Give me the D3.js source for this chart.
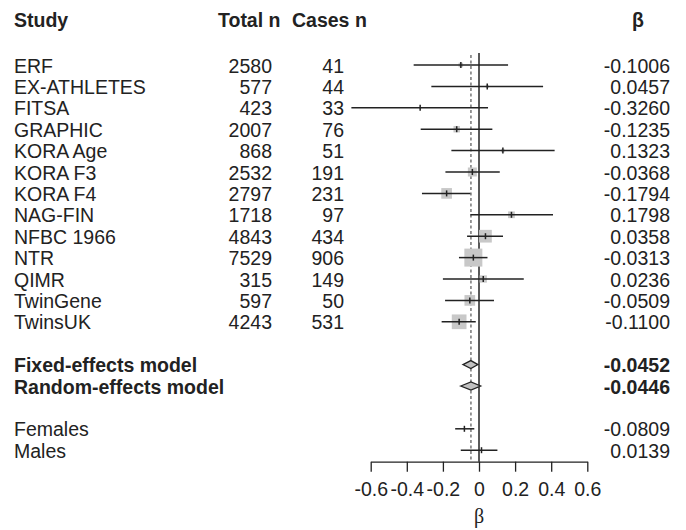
<!DOCTYPE html>
<html>
<head>
<meta charset="utf-8">
<script src="https://cdn.jsdelivr.net/npm/d3@7"></script>
<style>
    body { margin: 0; background: #fff; }
    text { font-family: "Liberation Sans", Arial, sans-serif; fill: #222; }
</style>
</head>
<body>
<div id="chart"></div>
<script>
const studies = ["ERF", "EX-ATHLETES", "FITSA", "GRAPHIC", "KORA Age", "KORA F3", "KORA F4",
    "NAG-FIN", "NFBC 1966", "NTR", "QIMR", "TwinGene", "TwinsUK"];
const totalN = [2580, 577, 423, 2007, 868, 2532, 2797, 1718, 4843, 7529, 315, 597, 4243];
const casesN = [41, 44, 33, 76, 51, 191, 231, 97, 434, 906, 149, 50, 531];
const beta = [-0.1006, 0.0457, -0.3260, -0.1235, 0.1323, -0.0368, -0.1794,
    0.1798, 0.0358, -0.0313, 0.0236, -0.0509, -0.1100];
const lower = [-0.362, -0.264, -0.707, -0.323, -0.153, -0.186, -0.316,
    -0.048, -0.066, -0.111, -0.200, -0.188, -0.207];
const upper = [0.161, 0.355, 0.050, 0.074, 0.419, 0.115, -0.048,
    0.410, 0.133, 0.047, 0.248, 0.083, -0.018];
const weight = [1.7, 0.8, 0.3, 3.5, 1.0, 6.8, 9.5, 3.8, 13.5, 27.1, 4.4, 9.5, 18.1];

const models = ["Fixed-effects model", "Random-effects model"];
const modelBeta = [-0.0452, -0.0446];
const modelLower = [-0.089, -0.101];
const modelUpper = [-0.006, 0.009];

const sexes = ["Females", "Males"];
const sexBeta = [-0.0809, 0.0139];
const sexLower = [-0.132, -0.101];
const sexUpper = [-0.026, 0.102];

const xTicks = [-0.6, -0.4, -0.2, 0, 0.2, 0.4, 0.6];

const width = 686;
const height = 530;
const fontSize = 19.5;

const svg = d3.select("#chart")
    .append("svg")
    .attr("width", width)
    .attr("height", height);

const x = d3.scaleLinear().domain([-0.6, 0.6]).range([370.7, 587.3]);
const y = d3.scaleLinear().domain([0, 18]).range([65, 450.2]);
const boxSize = d3.scaleSqrt().domain([0, 27.1]).range([0, 18]);

const studyRows = studies.map((s, i) => ({
    name: s, total: totalN[i], cases: casesN[i], beta: beta[i],
    lo: lower[i], hi: upper[i], w: weight[i], row: i
}));
const modelRows = models.map((m, i) => ({
    name: m, beta: modelBeta[i], lo: modelLower[i], hi: modelUpper[i], row: 14 + i
}));
const sexRows = sexes.map((s, i) => ({
    name: s, beta: sexBeta[i], lo: sexLower[i], hi: sexUpper[i], row: 17 + i
}));

// headers
const headerY = 27;
const header = svg.append("g").style("font-weight", "bold").style("font-size", fontSize + "px");
header.append("text").attr("x", 14).attr("y", headerY).text("Study");
header.append("text").attr("x", 218).attr("y", headerY).text("Total n");
header.append("text").attr("x", 292).attr("y", headerY).text("Cases n");
header.append("text").attr("x", 638).attr("y", headerY).attr("text-anchor", "middle").text("β");

const baseOff = 7.5;

// text columns
const cols = svg.append("g").style("font-size", fontSize + "px");
studyRows.forEach(d => {
    const ty = y(d.row) + baseOff;
    cols.append("text").attr("x", 14).attr("y", ty).text(d.name);
    cols.append("text").attr("x", 272).attr("y", ty).attr("text-anchor", "end").text(d.total);
    cols.append("text").attr("x", 344).attr("y", ty).attr("text-anchor", "end").text(d.cases);
    cols.append("text").attr("x", 670).attr("y", ty).attr("text-anchor", "end").text(d.beta.toFixed(4));
});
modelRows.forEach(d => {
    const ty = y(d.row) + baseOff;
    cols.append("text").attr("x", 14).attr("y", ty).style("font-weight", "bold").text(d.name);
    cols.append("text").attr("x", 670).attr("y", ty).attr("text-anchor", "end")
        .style("font-weight", "bold").text(d.beta.toFixed(4));
});
sexRows.forEach(d => {
    const ty = y(d.row) + baseOff;
    cols.append("text").attr("x", 14).attr("y", ty).text(d.name);
    cols.append("text").attr("x", 670).attr("y", ty).attr("text-anchor", "end").text(d.beta.toFixed(4));
});

const axisY = 461.7;

// reference lines
svg.append("line")
    .attr("x1", x(0)).attr("x2", x(0))
    .attr("y1", 53).attr("y2", axisY)
    .attr("stroke", "#222").attr("stroke-width", 1.5);

svg.append("line")
    .attr("x1", x(modelBeta[1])).attr("x2", x(modelBeta[1]))
    .attr("y1", 55).attr("y2", axisY)
    .attr("stroke", "#555").attr("stroke-width", 1.2)
    .attr("stroke-dasharray", "3,2.5");

// boxes
svg.append("g").selectAll("rect")
    .data(studyRows)
    .join("rect")
    .attr("x", d => x(d.beta) - boxSize(d.w) / 2)
    .attr("y", d => y(d.row) - boxSize(d.w) / 2)
    .attr("width", d => boxSize(d.w))
    .attr("height", d => boxSize(d.w))
    .attr("fill", "#c8c8c8");

// CI lines and point ticks
const ciRows = studyRows.concat(sexRows);
svg.append("g").selectAll("line")
    .data(ciRows)
    .join("line")
    .attr("x1", d => x(d.lo)).attr("x2", d => x(d.hi))
    .attr("y1", d => y(d.row)).attr("y2", d => y(d.row))
    .attr("stroke", "#222").attr("stroke-width", 1.5);

svg.append("g").selectAll("line")
    .data(ciRows)
    .join("line")
    .attr("x1", d => x(d.beta)).attr("x2", d => x(d.beta))
    .attr("y1", d => y(d.row) - 3).attr("y2", d => y(d.row) + 3)
    .attr("stroke", "#222").attr("stroke-width", 1.5);

// diamonds
svg.append("g").selectAll("path")
    .data(modelRows)
    .join("path")
    .attr("d", d => {
        const cy = y(d.row);
        return `M${x(d.lo)},${cy}L${x(d.beta)},${cy - 4}L${x(d.hi)},${cy}L${x(d.beta)},${cy + 4}Z`;
    })
    .attr("fill", "#c0c0c0")
    .attr("stroke", "#222")
    .attr("stroke-width", 1.3);

// x axis
const xAxis = d3.axisBottom(x)
    .tickValues(xTicks)
    .tickSize(10)
    .tickSizeOuter(0)
    .tickFormat(d => d === 0 ? "0" : d3.format(".1f")(d).replace("−", "-"));

const ax = svg.append("g")
    .attr("transform", `translate(0,${axisY})`)
    .call(xAxis);
ax.select(".domain").attr("stroke", "#222").attr("stroke-width", 1.3);
ax.selectAll(".tick line").attr("stroke", "#222").attr("stroke-width", 1.3);
ax.selectAll(".tick text")
    .attr("y", 34)
    .attr("dy", 0)
    .style("font-family", "'Liberation Sans', Arial, sans-serif")
    .style("font-size", "19.5px")
    .attr("fill", "#222");

svg.append("text")
    .attr("x", x(0))
    .attr("y", 523)
    .attr("text-anchor", "middle")
    .style("font-family", "'Liberation Serif', 'Times New Roman', serif")
    .style("font-size", "20px")
    .text("β");
</script>
</body>
</html>
